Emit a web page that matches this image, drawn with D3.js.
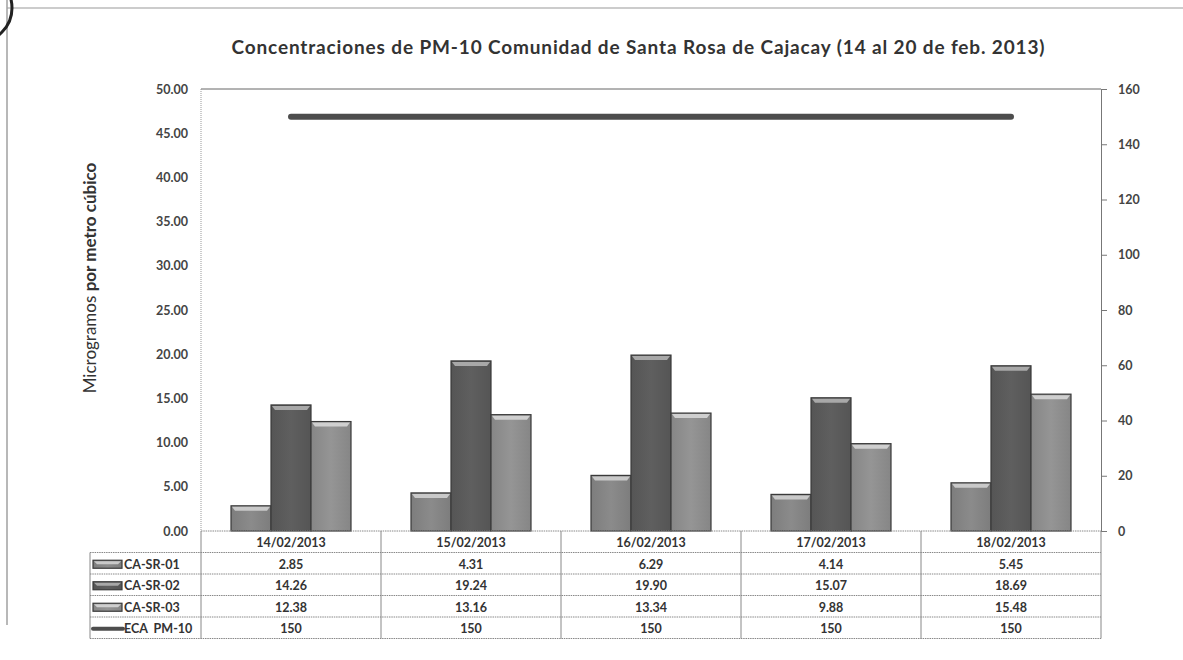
<!DOCTYPE html>
<html>
<head>
<meta charset="utf-8">
<style>
  body { margin: 0; background: #fff; }
  svg { font-family: Lato, "Open Sans", sans-serif; }
</style>
</head>
<body>
<svg id="chart" width="1183" height="660"></svg>
<script src="https://cdn.jsdelivr.net/npm/d3@7"></script>
<script>
// data
const dates = ["14/02/2013", "15/02/2013", "16/02/2013", "17/02/2013", "18/02/2013"]
const seriesNames = ["CA-SR-01", "CA-SR-02", "CA-SR-03", "ECA  PM-10"]
const sr01 = [2.85, 4.31, 6.29, 4.14, 5.45]
const sr02 = [14.26, 19.24, 19.90, 15.07, 18.69]
const sr03 = [12.38, 13.16, 13.34, 9.88, 15.48]
const eca = [150, 150, 150, 150, 150]
const leftTicks = [0, 5, 10, 15, 20, 25, 30, 35, 40, 45, 50]
const rightTicks = [0, 20, 40, 60, 80, 100, 120, 140, 160]

const barSeries = [sr01, sr02, sr03]
const barColors = ["#8b8b8b", "#5f5f5f", "#959595"]
const bevelColors = ["#c9c9c9", "#a8a8a8", "#cfcfcf"]

let svg = d3.select("#chart")

// scan frame marks
svg.append("line").attr("x1", 7).attr("x2", 1183).attr("y1", 8).attr("y2", 8)
    .attr("stroke", "#9a9a9a").attr("stroke-width", 1.2)
svg.append("line").attr("x1", 7).attr("x2", 7).attr("y1", 0).attr("y2", 625)
    .attr("stroke", "#a0a0a0").attr("stroke-width", 1.5)
svg.append("circle").attr("cx", -22).attr("cy", 8).attr("r", 34)
    .attr("fill", "none").attr("stroke", "#222").attr("stroke-width", 3)

let pLeft = 201, pRight = 1101, pTop = 89, pBottom = 531

let x0 = d3.scaleBand().domain(dates).range([pLeft, pRight]).padding(0)
let x1 = d3.scaleBand().domain([0, 1, 2]).range([0, x0.bandwidth()])
    .paddingInner(0).paddingOuter(0.75)
let yL = d3.scaleLinear().domain([0, 50]).range([pBottom, pTop])
let yR = d3.scaleLinear().domain([0, 160]).range([pBottom, pTop])

// title
svg.append("text")
    .attr("x", 638).attr("y", 54)
    .attr("text-anchor", "middle")
    .attr("font-size", 19).attr("font-weight", "bold").attr("fill", "#333")
    .attr("textLength", 813).attr("lengthAdjust", "spacing")
    .text("Concentraciones de PM-10 Comunidad de Santa Rosa de Cajacay (14 al 20 de feb. 2013)")

// plot frame
svg.append("line").attr("x1", pLeft).attr("x2", pRight).attr("y1", pTop).attr("y2", pTop)
    .attr("stroke", "#666").attr("stroke-width", 1)
svg.append("line").attr("x1", pLeft).attr("x2", pLeft).attr("y1", pTop).attr("y2", pBottom)
    .attr("stroke", "#999").attr("stroke-width", 1).attr("stroke-dasharray", "1,1")

// left axis
let axL = svg.append("g").attr("transform", `translate(${pLeft},0)`)
    .call(d3.axisLeft(yL).tickValues(leftTicks).tickFormat(d3.format(".2f")).tickSize(0).tickPadding(13))
axL.select(".domain").remove()
axL.selectAll("text").attr("font-size", 12.5).attr("font-weight", "bold").attr("fill", "#444")
    .attr("font-family", "Lato, sans-serif")

// right axis
let axR = svg.append("g").attr("transform", `translate(${pRight},0)`)
    .call(d3.axisRight(yR).tickValues(rightTicks).tickSize(6).tickPadding(11))
axR.select(".domain").attr("stroke", "#777")
axR.selectAll(".tick line").attr("stroke", "#777")
axR.selectAll("text").attr("font-size", 12.5).attr("font-weight", "bold").attr("fill", "#444")
    .attr("font-family", "Lato, sans-serif")

// y title
let yt = svg.append("text")
    .attr("transform", "translate(96,278) rotate(-90)")
    .attr("text-anchor", "middle").attr("font-size", 17).attr("fill", "#333")
yt.append("tspan").text("Microgramos ")
yt.append("tspan").attr("font-weight", "bold").text("por metro cúbico")

// bars
let defs = svg.append("defs")
barColors.forEach((c, i) => {
    let g = defs.append("linearGradient").attr("id", "grad" + i)
        .attr("x1", "0").attr("x2", "1").attr("y1", "0").attr("y2", "0")
    g.append("stop").attr("offset", "0").attr("stop-color", d3.color(c).darker(0.3))
    g.append("stop").attr("offset", "0.5").attr("stop-color", c)
    g.append("stop").attr("offset", "1").attr("stop-color", d3.color(c).darker(0.3))
})

function bevelBar(sel, x, y, w, h, i) {
    sel.append("rect").attr("x", x).attr("y", y).attr("width", w).attr("height", h)
        .attr("fill", `url(#grad${i})`).attr("stroke", "#3a3a3a").attr("stroke-width", 1.2)
    let b = Math.min(5, h / 2)
    sel.append("path")
        .attr("d", `M${x + 1},${y + 1}L${x + w - 1},${y + 1}L${x + w - 4},${y + b}L${x + 4},${y + b}Z`)
        .attr("fill", bevelColors[i])
}

let barsG = svg.append("g")
barSeries.forEach((vals, i) => {
    vals.forEach((v, j) => {
        let x = x0(dates[j]) + x1(i)
        bevelBar(barsG, x, yL(v), x1.bandwidth(), pBottom - yL(v), i)
    })
})

// ECA line on right axis
let line = d3.line().x((d, j) => x0(dates[j]) + x0.bandwidth() / 2).y(d => yR(d))
svg.append("path").datum(eca).attr("d", line)
    .attr("fill", "none").attr("stroke", "#4d4d4d").attr("stroke-width", 6)
    .attr("stroke-linecap", "round")

// data table
let rowH = 21.5
let tableLeft = 90
let tg = svg.append("g")
let hLine = (xa, xb, y) => tg.append("line").attr("x1", xa).attr("x2", xb).attr("y1", y).attr("y2", y)
    .attr("stroke", "#888").attr("stroke-width", 1).attr("stroke-dasharray", "1.5,0.8")
let vLine = (x, ya, yb) => tg.append("line").attr("x1", x).attr("x2", x).attr("y1", ya).attr("y2", yb)
    .attr("stroke", "#888").attr("stroke-width", 1)

hLine(pLeft, pRight, pBottom)
for (let r = 1; r <= 5; r++) hLine(tableLeft, pRight, pBottom + r * rowH)
x0.domain().forEach(d => vLine(x0(d), pBottom, pBottom + 5 * rowH))
vLine(pRight, pBottom, pBottom + 5 * rowH)
vLine(tableLeft, pBottom + rowH, pBottom + 5 * rowH)

let cellText = (x, y, t) => tg.append("text").attr("x", x).attr("y", y)
    .attr("text-anchor", "middle").attr("dominant-baseline", "central")
    .attr("font-size", 12.5).attr("font-weight", "bold").attr("fill", "#333").text(t)

dates.forEach(d => cellText(x0(d) + x0.bandwidth() / 2, pBottom + rowH / 2 + 1, d))

let allSeries = [sr01, sr02, sr03, eca]
let fmts = [d3.format(".2f"), d3.format(".2f"), d3.format(".2f"), d3.format("d")]
allSeries.forEach((vals, r) => {
    let cy = pBottom + (r + 1) * rowH + rowH / 2 + 1
    vals.forEach((v, j) => cellText(x0(dates[j]) + x0.bandwidth() / 2, cy, fmts[r](v)))
    if (r < 3) {
        bevelBar(tg, 93, cy - 4, 29, 8, r)
    } else {
        tg.append("line").attr("x1", 93).attr("x2", 123).attr("y1", cy).attr("y2", cy)
            .attr("stroke", "#4d4d4d").attr("stroke-width", 4).attr("stroke-linecap", "round")
    }
    tg.append("text").attr("x", 124).attr("y", cy).attr("dominant-baseline", "central")
        .attr("font-size", 12.5).attr("font-weight", "bold").attr("fill", "#333")
        .attr("xml:space", "preserve").style("white-space", "pre")
        .text(seriesNames[r])
})
</script>
</body>
</html>
